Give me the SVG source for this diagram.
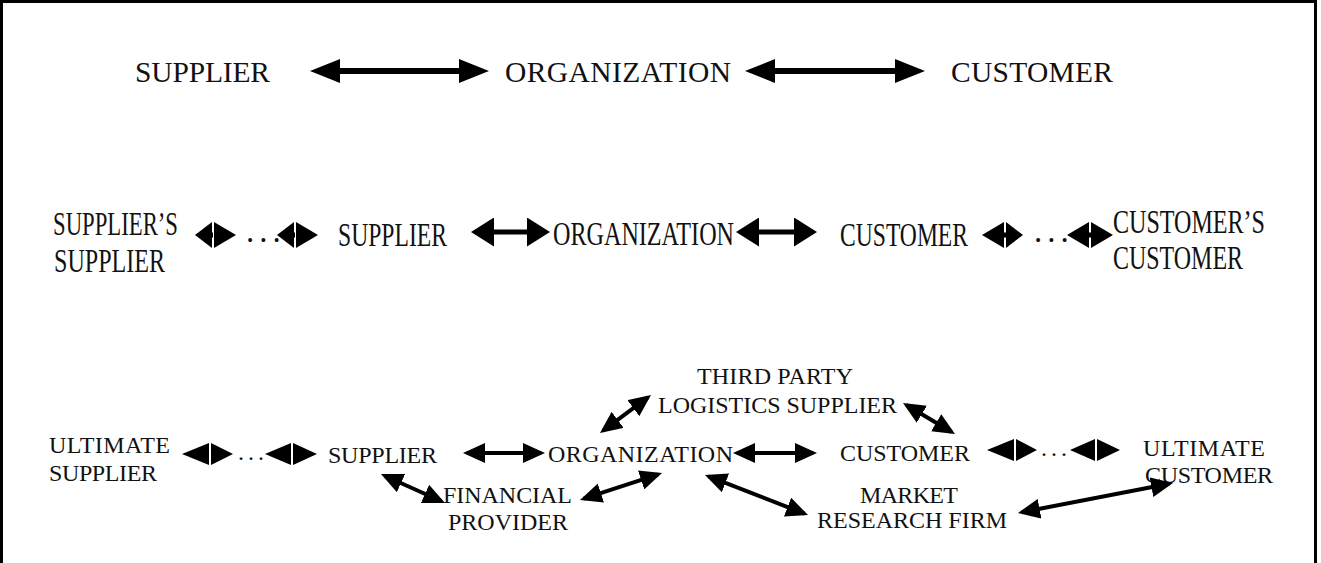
<svg xmlns="http://www.w3.org/2000/svg" width="1321" height="563" viewBox="0 0 1321 563">
<style>
text{font-family:"Liberation Serif","Times New Roman",serif;fill:#111}
.r1{font-size:29.5px}
.r2{font-size:33px}
.r3{font-size:24px}
.l1{stroke:#000;stroke-width:6;fill:none;marker-start:url(#h1);marker-end:url(#h1)}
.l2{stroke:#000;stroke-width:5;fill:none;marker-start:url(#h2);marker-end:url(#h2)}
.l3{stroke:#000;stroke-width:4;fill:none;marker-start:url(#h3);marker-end:url(#h3)}
.sym polygon{fill:#000}
.sym rect{fill:#000}
</style>
<defs>
<marker id="h1" markerUnits="userSpaceOnUse" markerWidth="30" markerHeight="24" viewBox="0 0 30 24" refX="20" refY="12" orient="auto-start-reverse"><path d="M0,0 L30,12 L0,24 z" fill="#000"/></marker>
<marker id="h2" markerUnits="userSpaceOnUse" markerWidth="23" markerHeight="29" viewBox="0 0 23 29" refX="17" refY="14.5" orient="auto-start-reverse"><path d="M0,0 L23,14.5 L0,29 z" fill="#000"/></marker>
<marker id="h3" markerUnits="userSpaceOnUse" markerWidth="22" markerHeight="20" viewBox="0 0 22 20" refX="18" refY="10" orient="auto-start-reverse"><path d="M0,0 L22,10 L0,20 z" fill="#000"/></marker>
</defs>
<rect x="1.5" y="1.5" width="1314" height="600" fill="#fff" stroke="#000" stroke-width="3"/>

<!-- Row 1 -->
<g id="r1-supplier"><text class="r1" x="135" y="82" textLength="135" lengthAdjust="spacing">SUPPLIER</text></g>
<g id="r1-organization"><text class="r1" x="505" y="82" textLength="226" lengthAdjust="spacing">ORGANIZATION</text></g>
<g id="r1-customer"><text class="r1" x="951" y="82" textLength="162" lengthAdjust="spacing">CUSTOMER</text></g>

<!-- Row 2 -->
<g id="r2-suppliers-supplier">
<text class="r2" x="53" y="235" textLength="125" lengthAdjust="spacingAndGlyphs">SUPPLIER’S</text>
<text class="r2" x="54" y="272" textLength="111" lengthAdjust="spacingAndGlyphs">SUPPLIER</text>
</g>
<g id="r2-supplier"><text class="r2" x="338" y="246" textLength="109" lengthAdjust="spacingAndGlyphs">SUPPLIER</text></g>
<g id="r2-organization"><text class="r2" x="553" y="245" textLength="181" lengthAdjust="spacingAndGlyphs">ORGANIZATION</text></g>
<g id="r2-customer"><text class="r2" x="840" y="246" textLength="128" lengthAdjust="spacingAndGlyphs">CUSTOMER</text></g>
<g id="r2-customers-customer">
<text class="r2" x="1113" y="233" textLength="152" lengthAdjust="spacingAndGlyphs">CUSTOMER’S</text>
<text class="r2" x="1113" y="269" textLength="130" lengthAdjust="spacingAndGlyphs">CUSTOMER</text>
</g>

<!-- Row 3 -->
<g id="r3-ultimate-supplier">
<text class="r3" x="49" y="453" textLength="121" lengthAdjust="spacing">ULTIMATE</text>
<text class="r3" x="49" y="481" textLength="108" lengthAdjust="spacing">SUPPLIER</text>
</g>
<g id="r3-supplier"><text class="r3" x="328" y="463" textLength="109" lengthAdjust="spacing">SUPPLIER</text></g>
<g id="r3-organization"><text class="r3" x="548" y="462" textLength="185" lengthAdjust="spacing">ORGANIZATION</text></g>
<g id="r3-third-party">
<text class="r3" x="697" y="384" textLength="156" lengthAdjust="spacing">THIRD PARTY</text>
<text class="r3" x="658" y="413" textLength="239" lengthAdjust="spacing">LOGISTICS SUPPLIER</text>
</g>
<g id="r3-customer"><text class="r3" x="840" y="461" textLength="130" lengthAdjust="spacing">CUSTOMER</text></g>
<g id="r3-ultimate-customer">
<text class="r3" x="1143" y="456" textLength="122" lengthAdjust="spacing">ULTIMATE</text>
<text class="r3" x="1145" y="483" textLength="128" lengthAdjust="spacing">CUSTOMER</text>
</g>
<g id="r3-financial">
<text class="r3" x="443" y="503" textLength="129" lengthAdjust="spacing">FINANCIAL</text>
<text class="r3" x="448" y="530" textLength="120" lengthAdjust="spacing">PROVIDER</text>
</g>
<g id="r3-market">
<text class="r3" x="860" y="503" textLength="98" lengthAdjust="spacing">MARKET</text>
<text class="r3" x="817" y="528" textLength="190" lengthAdjust="spacing">RESEARCH FIRM</text>
</g>

<g id="connectors">
<!-- row 1 -->
<line class="l1" x1="320" y1="71" x2="479" y2="71"/>
<line class="l1" x1="755" y1="71" x2="915" y2="71"/>
<!-- row 2 -->
<line class="l2" x1="477" y1="232" x2="544" y2="232"/>
<line class="l2" x1="742" y1="232" x2="811" y2="232"/>
<g class="sym">
<polygon points="195,235 212,222 212,248"/><polygon points="214,222 214,248 236,235"/>
<polygon points="277,235 294,222 294,248"/><polygon points="296,222 296,248 318,235"/>
<polygon points="982,235 1004,222 1004,248"/><polygon points="1006,222 1006,248 1023,235"/>
<polygon points="1067,235 1089,222 1089,248"/><polygon points="1091,222 1091,248 1113,235"/>
<rect x="205" y="232.5" width="8" height="5"/><rect x="287" y="232.5" width="8" height="5"/>
<rect x="1003" y="232.5" width="8" height="5"/><rect x="1086" y="232.5" width="8" height="5"/>
</g>
<text class="r2" x="246" y="242" font-size="16" letter-spacing="5">...</text>
<text class="r2" x="1034" y="242" font-size="16" letter-spacing="5">...</text>
<!-- row 3 -->
<line class="l3" x1="467" y1="453" x2="541" y2="453"/>
<line class="l3" x1="737" y1="453" x2="813" y2="453"/>
<line class="l3" x1="384.6" y1="475.7" x2="441.4" y2="501.3"/>
<line class="l3" x1="583.8" y1="498.7" x2="658.2" y2="474.3"/>
<line class="l3" x1="603.2" y1="430.6" x2="647.8" y2="397.4"/>
<line class="l3" x1="906.4" y1="405" x2="951.6" y2="432"/>
<line class="l3" x1="708.7" y1="476.4" x2="804.3" y2="513.6"/>
<line class="l3" x1="1021.9" y1="512.2" x2="1169.1" y2="483.8"/>
<g class="sym">
<polygon points="182,454 209,443 209,465"/><polygon points="211,443 211,465 233,454"/>
<polygon points="265,454 291,443 291,465"/><polygon points="293,443 293,465 317,454"/>
<polygon points="987,450 1014,439 1014,461"/><polygon points="1016,439 1016,461 1037,450"/>
<polygon points="1070,450 1095,439 1095,461"/><polygon points="1097,439 1097,461 1120,450"/>
</g>
<text class="r3" x="238" y="460" font-size="16" letter-spacing="4">...</text>
<text class="r3" x="1041" y="456" font-size="16" letter-spacing="4">...</text>
</g>
</svg>
